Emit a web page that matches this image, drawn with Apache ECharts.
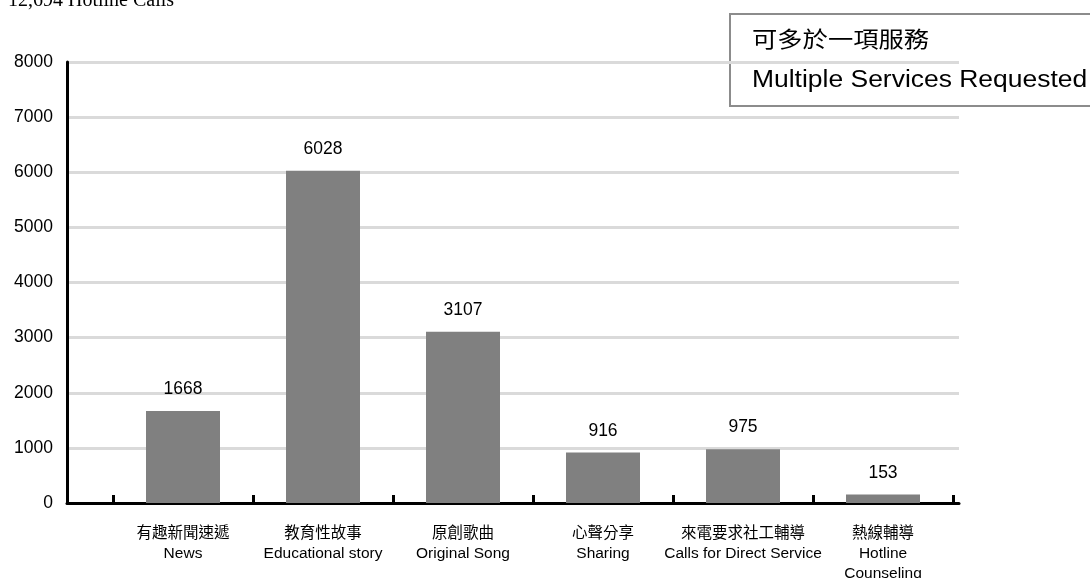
<!DOCTYPE html>
<html>
<head>
<meta charset="utf-8">
<script src="https://cdn.jsdelivr.net/npm/echarts@6/dist/echarts.min.js"></script>
<style>
  html, body { margin: 0; padding: 0; background: #fff; }
  #chart { width: 1090px; height: 578px; }
</style>
</head>
<body>
<div id="chart"></div>
<script>
// 服務類別
var categories = [
    '有趣新聞速遞\nNews',
    '教育性故事\nEducational story',
    '原創歌曲\nOriginal Song',
    '心聲分享\nSharing',
    '來電要求社工輔導\nCalls for Direct Service',
    '熱線輔導\nHotline\nCounseling'
];
var calls = [1668, 6028, 3107, 916, 975, 153];
var yTicks = [0, 1000, 2000, 3000, 4000, 5000, 6000, 7000, 8000];

var FONT = '"Liberation Sans", Arial, "Noto Sans CJK TC", sans-serif';

var chart = echarts.init(document.getElementById('chart'));

var option = {
    backgroundColor: '#fff',
    animation: false,
    textStyle: {fontFamily: FONT},
    grid: [
        // 背景: y 軸與格線
        {left: 67, right: 131, top: 62, bottom: 75, outerBoundsMode: 'none', containLabel: false},
        // 長條
        {left: 113, right: 137, top: 62, bottom: 75, outerBoundsMode: 'none', containLabel: false}
    ],
    xAxis: [
        {
            gridIndex: 0, type: 'value', min: 0, max: 1,
            axisLine: {show: true, onZero: false, lineStyle: {color: '#000', width: 3}},
            axisTick: {show: false},
            axisLabel: {show: false},
            splitLine: {show: false}
        },
        {
            gridIndex: 1, type: 'category', data: categories,
            axisLine: {show: false},
            axisTick: {show: true, inside: true, length: 8, lineStyle: {color: '#000', width: 3}},
            axisLabel: {
                color: '#000', fontSize: 15.5, lineHeight: 20, margin: 21,
                fontFamily: FONT, interval: 0
            }
        }
    ],
    yAxis: [
        {
            gridIndex: 0, type: 'value', min: yTicks[0], max: yTicks[yTicks.length - 1], interval: 1000,
            axisLine: {show: true, lineStyle: {color: '#000', width: 3}},
            axisTick: {show: false},
            axisLabel: {
                color: '#000', fontSize: 17.5, margin: 14, fontFamily: FONT,
                formatter: function (v) { return String(v); }
            },
            splitLine: {lineStyle: {color: '#dadada', width: 3}}
        },
        {
            gridIndex: 1, type: 'value', min: 0, max: 8000,
            show: false
        }
    ],
    series: [
        {
            type: 'bar',
            xAxisIndex: 1,
            yAxisIndex: 1,
            data: calls,
            barWidth: 74,
            itemStyle: {color: '#808080'},
            label: {
                show: true, position: 'top', distance: 13,
                color: '#000', fontSize: 17.5, fontFamily: FONT
            }
        }
    ],
    graphic: [
        {
            type: 'text', left: 8, top: -9,
            style: {
                text: '12,694 Hotline Calls',
                font: '20px "Liberation Serif", "Times New Roman", serif',
                fill: '#000'
            }
        },
        {
            type: 'rect', left: 729, top: 13,
            shape: {width: 380, height: 92},
            style: {fill: '#fff', stroke: '#8c8c8c', lineWidth: 2}
        },
        {
            type: 'text', x: 752, y: 39, scaleX: 1.15, originX: 0,
            style: {
                text: '可多於一項服務',
                font: '22px "Noto Sans CJK TC", sans-serif',
                fill: '#000', verticalAlign: 'middle'
            }
        },
        {
            type: 'text', x: 752, y: 81, scaleX: 1.15, originX: 0,
            style: {
                text: 'Multiple Services Requested',
                font: '23px "Liberation Sans", Arial, sans-serif',
                fill: '#000', verticalAlign: 'middle'
            }
        }
    ]
};

chart.setOption(option);
</script>
</body>
</html>
